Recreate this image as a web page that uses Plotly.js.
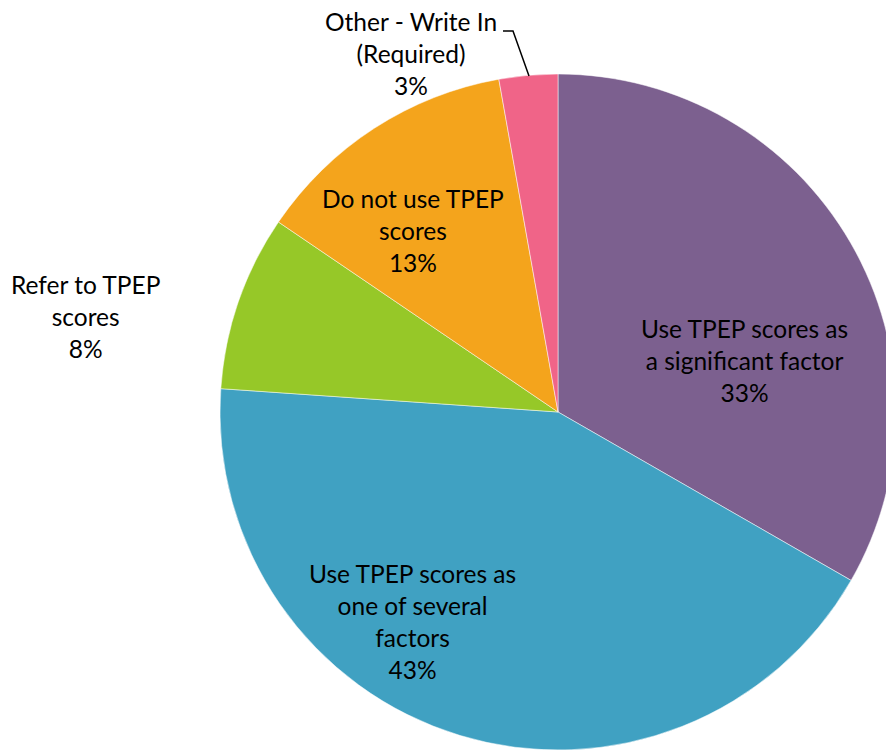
<!DOCTYPE html>
<html>
<head>
<meta charset="utf-8">
<script src="https://cdn.plot.ly/plotly-3.0.1.min.js"></script>
<style>
html, body { margin: 0; padding: 0; overflow: hidden; background: #ffffff; width: 886px; height: 752px; }
#chart { width: 900px; height: 752px; }
</style>
</head>
<body>
<div id="chart"></div>
<script>
// Data
const categories = [
  "Use TPEP scores as<br>a significant factor",
  "Use TPEP scores as<br>one of several<br>factors",
  "Refer to TPEP<br>scores",
  "Do not use TPEP<br>scores",
  "Other - Write In<br>(Required)"
];
const shares = [33.3, 42.8, 8.4, 12.7, 2.8];          // slice sizes
const percentLabels = ["33%", "43%", "8%", "13%", "3%"]; // labels as printed
const colors = ["#7C608F", "#40A1C2", "#96C828", "#F4A41C", "#F06488"];

const W = 900, H = 752;
const px = x => x / W;
const py = y => 1 - y / H;

// label block centres (pixels)
const labelPos = [
  [744, 360],
  [412, 621],
  [85, 316],
  [413, 230],
  [411, 54]
];

const annotations = categories.map((c, i) => ({
  text: c + "<br>" + percentLabels[i],
  x: px(labelPos[i][0]), y: py(labelPos[i][1]),
  xref: "paper", yref: "paper",
  xanchor: "center", yanchor: "middle",
  showarrow: false,
  align: "center",
  font: { family: "Lato, 'Open Sans', sans-serif", size: 24.5, color: "#000000" }
}));

const trace = {
  type: "pie",
  values: shares,
  labels: categories.map(c => c.replace(/<br>/g, " ")),
  marker: { colors: colors, line: { color: "#ffffff", width: 0.5 } },
  sort: false,
  direction: "clockwise",
  rotation: 0,
  textinfo: "none",
  hoverinfo: "label+percent",
  domain: { x: [220 / W, 896 / W], y: [2 / H, 678 / H] }
};

const layout = {
  width: W, height: H,
  margin: { l: 0, r: 0, t: 0, b: 0 },
  showlegend: false,
  paper_bgcolor: "#ffffff",
  annotations: annotations,
  shapes: [{
    type: "path",
    xref: "paper", yref: "paper",
    path: `M ${px(503)} ${py(31)} L ${px(513)} ${py(31)} L ${px(529)} ${py(76)}`,
    line: { color: "#000000", width: 1.5 }
  }]
};

Plotly.newPlot("chart", [trace], layout, { displayModeBar: false, staticPlot: true });
</script>
</body>
</html>
